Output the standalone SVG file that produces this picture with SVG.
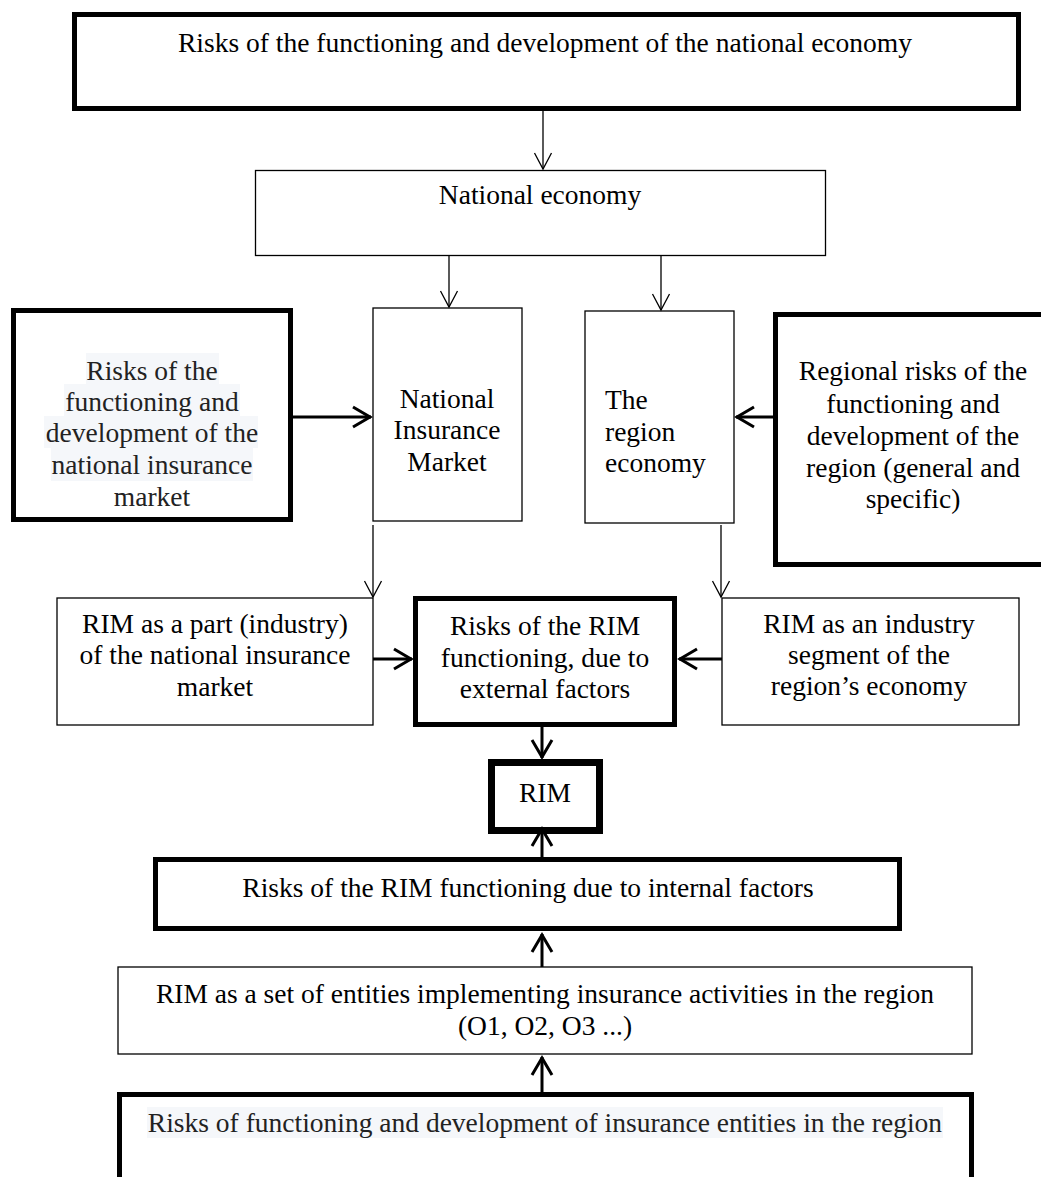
<svg xmlns="http://www.w3.org/2000/svg" width="1041" height="1177" viewBox="0 0 1041 1177">
  <style>
    .box { fill: #ffffff; stroke: #000000; }
    .thin { stroke-width: 1.3; }
    .bold { stroke-width: 5; }
    .heavy { stroke-width: 7; }
    text { font-family: "Liberation Serif", "Times New Roman", serif; font-size: 27.5px; fill: #000000; }
    .c { text-anchor: middle; }
    .soft { fill: #222222; }
    .hl { fill: #f5f7fa; stroke: none; }
    .link { fill: none; stroke: #000000; }
    .link-thin { stroke-width: 1.3; marker-end: url(#head-thin); }
    .link-bold { stroke-width: 3; marker-end: url(#head-bold); }
  </style>
  <defs>
    <marker id="head-thin" markerUnits="userSpaceOnUse" orient="auto" markerWidth="20" markerHeight="20" viewBox="-18 -10 20 20" refX="0" refY="0" overflow="visible">
      <path d="M-16,-8.5 L0,0 L-16,8.5" fill="none" stroke="#000000" stroke-width="1.3"/>
    </marker>
    <marker id="head-bold" markerUnits="userSpaceOnUse" orient="auto" markerWidth="24" markerHeight="24" viewBox="-22 -12 24 24" refX="0" refY="0" overflow="visible">
      <path d="M-18,-10 L-1,0 L-18,10" fill="none" stroke="#000000" stroke-width="3"/>
    </marker>
  </defs>
  <rect width="1041" height="1177" fill="#ffffff"/>

  <g id="node-national-risks">
    <rect class="box bold" x="74.5" y="14.5" width="944" height="94"/>
    <text class="c" x="545" y="52">Risks of the functioning and development of the national economy</text>
  </g>

  <g id="node-national-economy">
    <rect class="box thin" x="255.5" y="170.5" width="570" height="85"/>
    <text class="c" x="540" y="204">National economy</text>
  </g>

  <g id="node-insurance-market-risks">
    <rect class="box bold" x="13.5" y="310.5" width="277" height="209"/>
    <rect class="hl" x="86" y="353" width="133" height="31"/>
    <rect class="hl" x="64" y="384" width="176" height="32"/>
    <rect class="hl" x="44" y="416" width="214" height="32"/>
    <rect class="hl" x="51" y="448" width="202" height="33"/>
    <text class="c soft" x="152" y="380">Risks of the</text>
    <text class="c soft" x="152" y="411">functioning and</text>
    <text class="c soft" x="152" y="442">development of the</text>
    <text class="c soft" x="152" y="474">national insurance</text>
    <text class="c soft" x="152" y="506">market</text>
  </g>

  <g id="node-insurance-market">
    <rect class="box thin" x="373" y="308" width="149" height="213"/>
    <text class="c" x="447" y="408">National</text>
    <text class="c" x="447" y="439">Insurance</text>
    <text class="c" x="447" y="471">Market</text>
  </g>

  <g id="node-region-economy">
    <rect class="box thin" x="585" y="311" width="149" height="212"/>
    <text x="605" y="409">The</text>
    <text x="605" y="441">region</text>
    <text x="605" y="472">economy</text>
  </g>

  <g id="node-regional-risks">
    <rect class="box bold" x="775.5" y="314.5" width="280" height="250"/>
    <text class="c" x="913" y="380">Regional risks of the</text>
    <text class="c" x="913" y="413">functioning and</text>
    <text class="c" x="913" y="445">development of the</text>
    <text class="c" x="913" y="477">region (general and</text>
    <text class="c" x="913" y="508">specific)</text>
  </g>

  <g id="node-rim-part">
    <rect class="box thin" x="57" y="598" width="316" height="127"/>
    <text class="c" x="215" y="633">RIM as a part (industry)</text>
    <text class="c" x="215" y="664">of the national insurance</text>
    <text class="c" x="215" y="696">market</text>
  </g>

  <g id="node-external-risks">
    <rect class="box bold" x="415.5" y="598.5" width="259" height="126"/>
    <text class="c" x="545" y="635">Risks of the RIM</text>
    <text class="c" x="545" y="667">functioning, due to</text>
    <text class="c" x="545" y="698">external factors</text>
  </g>

  <g id="node-rim-segment">
    <rect class="box thin" x="722" y="598" width="297" height="127"/>
    <text class="c" x="869" y="633">RIM as an industry</text>
    <text class="c" x="869" y="664">segment of the</text>
    <text class="c" x="869" y="695">region’s economy</text>
  </g>

  <g id="node-rim">
    <rect class="box heavy" x="491.5" y="762.5" width="108" height="68"/>
    <text class="c" x="545" y="802">RIM</text>
  </g>

  <g id="node-internal-risks">
    <rect class="box bold" x="155.5" y="859.5" width="744" height="69"/>
    <text class="c" x="528" y="897">Risks of the RIM functioning due to internal factors</text>
  </g>

  <g id="node-rim-entities">
    <rect class="box thin" x="118" y="967" width="854" height="87"/>
    <text class="c" x="545" y="1003">RIM as a set of entities implementing insurance activities in the region</text>
    <text class="c" x="545" y="1035">(O1, O2, O3 ...)</text>
  </g>

  <g id="node-entity-risks">
    <rect class="box bold" x="119.5" y="1094.5" width="852" height="120"/>
    <rect class="hl" x="147" y="1107" width="796" height="31"/>
    <text class="c soft" x="545" y="1132">Risks of functioning and development of insurance entities in the region</text>
  </g>

  <g id="connectors">
    <line class="link link-thin" x1="543" y1="111" x2="543" y2="169"/>
    <line class="link link-thin" x1="449" y1="256" x2="449" y2="307"/>
    <line class="link link-thin" x1="661" y1="256" x2="661" y2="310"/>
    <line class="link link-bold" x1="293" y1="417" x2="371" y2="417"/>
    <line class="link link-bold" x1="773" y1="417" x2="736" y2="417"/>
    <line class="link link-thin" x1="373" y1="525" x2="373" y2="597"/>
    <line class="link link-thin" x1="721" y1="525" x2="721" y2="597"/>
    <line class="link link-bold" x1="373" y1="659" x2="412" y2="659"/>
    <line class="link link-bold" x1="722" y1="659" x2="679" y2="659"/>
    <line class="link link-bold" x1="542" y1="727" x2="542" y2="758"/>
    <line class="link link-bold" x1="542" y1="857" x2="542" y2="828"/>
    <line class="link link-bold" x1="542" y1="967" x2="542" y2="934"/>
    <line class="link link-bold" x1="542" y1="1092" x2="542" y2="1057"/>
  </g>
</svg>
